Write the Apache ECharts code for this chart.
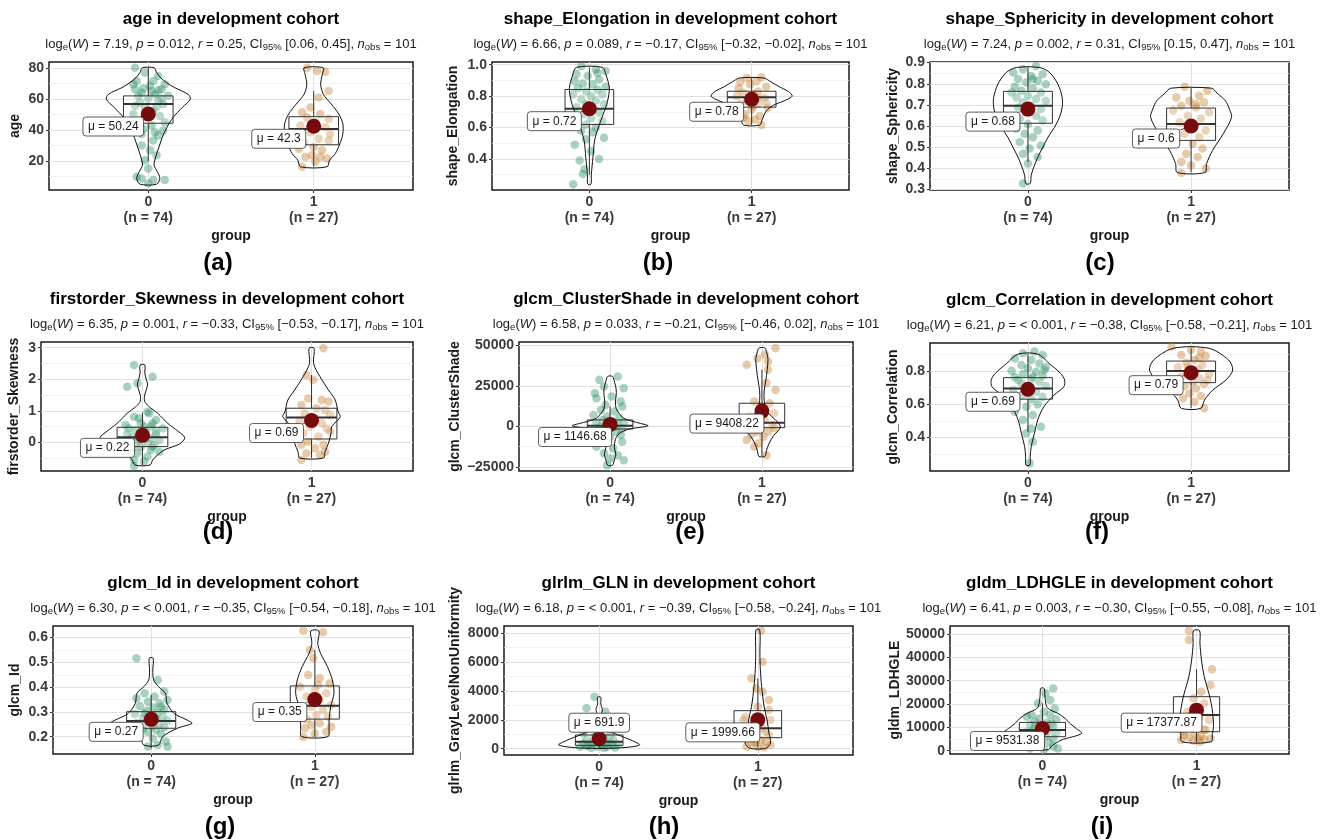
<!DOCTYPE html>
<html>
<head>
<meta charset="utf-8" />
<title>development cohort</title>
<script src="https://cdn.jsdelivr.net/npm/echarts@6/dist/echarts.min.js"></script>
<style>
  html, body { margin: 0; padding: 0; background: #fff; }
  #container { width: 1321px; height: 840px; }
</style>
</head>
<body>
<div id="container"></div>
<script>
// ---------- data ----------
var groupNames = ['0', '1'];
var groupN = [74, 27];
var nObs = 101;
var featureNames = ['age', 'shape_Elongation', 'shape_Sphericity', 'firstorder_Skewness',
  'glcm_ClusterShade', 'glcm_Correlation', 'glcm_Id', 'glrlm_GLN', 'gldm_LDHGLE'];
var yAxisNames = ['age', 'shape_Elongation', 'shape_Sphericity', 'firstorder_Skewness',
  'glcm_ClusterShade', 'glcm_Correlation', 'glcm_Id', 'glrlm_GrayLevelNonUniformity', 'gldm_LDHGLE'];
var panelTags = ['(a)', '(b)', '(c)', '(d)', '(e)', '(f)', '(g)', '(h)', '(i)'];

var logW = ['7.19', '6.66', '7.24', '6.35', '6.58', '6.21', '6.30', '6.18', '6.41'];
var pValues = ['0.012', '0.089', '0.002', '0.001', '0.033', '< 0.001', '< 0.001', '< 0.001', '0.003'];
var rValues = ['0.25', '−0.17', '0.31', '−0.33', '−0.21', '−0.38', '−0.35', '−0.39', '−0.30'];
var ciValues = ['[0.06, 0.45]', '[−0.32, −0.02]', '[0.15, 0.47]', '[−0.53, −0.17]', '[−0.46, 0.02]',
  '[−0.58, −0.21]', '[−0.54, −0.18]', '[−0.58, −0.24]', '[−0.55, −0.08]'];

var yRanges = [[1.25, 83.75], [0.203, 1.017], [0.297, 0.903], [-0.91, 3.18], [-27600, 52100],
  [0.197, 0.969], [0.130, 0.647], [-437, 8507], [-1400, 53430]];
var majorTicks = [
  [20, 40, 60, 80], [0.4, 0.6, 0.8, 1.0], [0.3, 0.4, 0.5, 0.6, 0.7, 0.8, 0.9], [0, 1, 2, 3],
  [-25000, 0, 25000, 50000], [0.4, 0.6, 0.8], [0.2, 0.3, 0.4, 0.5, 0.6],
  [0, 2000, 4000, 6000, 8000], [0, 10000, 20000, 30000, 40000, 50000]];
var minorTicks = [
  [10, 30, 50, 70], [0.3, 0.5, 0.7, 0.9], [0.35, 0.45, 0.55, 0.65, 0.75, 0.85], [-0.5, 0.5, 1.5, 2.5],
  [-12500, 12500, 37500], [0.3, 0.5, 0.7, 0.9], [0.15, 0.25, 0.35, 0.45, 0.55],
  [1000, 3000, 5000, 7000], [5000, 15000, 25000, 35000, 45000]];
var tickDecimals = [0, 1, 1, 0, 0, 1, 1, 0, 0];

var means = [[50.24, 42.3], [0.72, 0.78], [0.68, 0.6], [0.22, 0.69], [1146.68, 9408.22],
  [0.69, 0.79], [0.27, 0.35], [691.9, 1999.66], [9531.38, 17377.87]];

// [lower whisker, q1, median, q3, upper whisker]
var boxStats = [
  [[20, 44.3, 56.6, 61.9, 80], [16.2, 30.4, 40.6, 48.5, 65]],
  [[0.3, 0.62, 0.72, 0.842, 0.983], [0.616, 0.73, 0.793, 0.831, 0.915]],
  [[0.43, 0.613, 0.696, 0.764, 0.877], [0.38, 0.532, 0.61, 0.685, 0.779]],
  [[-0.72, -0.137, 0.16, 0.475, 0.94], [-0.5, 0.105, 0.79, 1.08, 2.13]],
  [[-4300, -1650, 420, 3930, 12200], [-18500, -830, 2270, 14260, 35000]],
  [[0.434, 0.63, 0.695, 0.76, 0.902], [0.575, 0.73, 0.8, 0.86, 0.935]],
  [[0.153, 0.234, 0.263, 0.301, 0.368], [0.2, 0.271, 0.325, 0.405, 0.55]],
  [[50, 231, 485, 948, 1870], [100, 763, 1410, 2636, 4880]],
  [[700, 6000, 8860, 12140, 20290], [3860, 8140, 15290, 23140, 34860]]
];

// violin outlines: [value, half width]
var violins = [
  [[[5,0.05],[8.8,0.07],[13,0.055],[17.3,0.035],[22.6,0.045],[29,0.065],[35.3,0.085],[41.7,0.113],[48,0.15],[54.5,0.206],[59.8,0.254],[63,0.24],[67.2,0.16],[70.5,0.11],[73.6,0.075],[77,0.05],[80,0.036]],
   [[16.2,0.08],[20.5,0.096],[24.7,0.13],[31,0.158],[37.5,0.176],[43.9,0.176],[50.3,0.151],[56.6,0.106],[63,0.058],[69.4,0.042],[75.8,0.052],[80,0.058]]],
  [[[0.24,0.01],[0.3,0.012],[0.41,0.022],[0.515,0.032],[0.6,0.055],[0.684,0.085],[0.768,0.112],[0.852,0.123],[0.937,0.102],[0.983,0.08]],
   [[0.616,0.05],[0.652,0.065],[0.705,0.09],[0.74,0.13],[0.77,0.2],[0.8,0.25],[0.83,0.225],[0.86,0.17],[0.89,0.12],[0.915,0.075]]],
  [[[0.328,0.014],[0.367,0.02],[0.407,0.037],[0.453,0.061],[0.5,0.092],[0.547,0.123],[0.594,0.163],[0.642,0.194],[0.689,0.21],[0.735,0.21],[0.798,0.184],[0.853,0.133],[0.877,0.07]],
   [[0.38,0.085],[0.422,0.095],[0.485,0.132],[0.563,0.197],[0.641,0.248],[0.68,0.235],[0.72,0.21],[0.755,0.16],[0.779,0.125]]],
  [[[-0.72,0.045],[-0.56,0.06],[-0.4,0.09],[-0.24,0.13],[-0.05,0.22],[0.15,0.25],[0.35,0.21],[0.6,0.15],[0.92,0.09],[1.15,0.035],[1.3,0.013],[1.5,0.013],[1.7,0.025],[1.85,0.03],[2.0,0.022],[2.2,0.014],[2.45,0.014]],
   [[-0.5,0.07],[-0.3,0.08],[-0.03,0.1],[0.29,0.115],[0.5,0.12],[0.81,0.17],[0.97,0.157],[1.34,0.14],[1.66,0.1],[2.08,0.05],[2.5,0.012],[2.98,0.015]]],
  [[[-24000,0.016],[-20000,0.03],[-17500,0.038],[-13000,0.028],[-8000,0.035],[-4500,0.06],[-1800,0.12],[300,0.25],[1800,0.2],[3000,0.15],[5000,0.09],[8000,0.06],[11000,0.04],[15000,0.035],[19000,0.04],[23000,0.04],[27000,0.03],[30800,0.016]],
   [[-18500,0.02],[-15000,0.03],[-11000,0.045],[-6000,0.075],[-1000,0.12],[2000,0.11],[6000,0.065],[10000,0.03],[16000,0.015],[22000,0.015],[28000,0.025],[35000,0.035],[42000,0.04],[46000,0.03],[48400,0.02]]],
  [[[0.233,0.012],[0.283,0.014],[0.344,0.02],[0.424,0.04],[0.505,0.06],[0.585,0.098],[0.655,0.16],[0.705,0.22],[0.746,0.225],[0.786,0.2],[0.846,0.13],[0.902,0.06]],
   [[0.575,0.06],[0.625,0.082],[0.685,0.133],[0.746,0.214],[0.806,0.255],[0.866,0.23],[0.937,0.11]]],
  [[[0.166,0.045],[0.2,0.07],[0.234,0.16],[0.254,0.25],[0.267,0.22],[0.294,0.14],[0.335,0.097],[0.375,0.087],[0.402,0.045],[0.429,0.015],[0.469,0.01],[0.517,0.012]],
   [[0.2,0.08],[0.234,0.087],[0.267,0.087],[0.321,0.097],[0.375,0.117],[0.429,0.107],[0.483,0.077],[0.537,0.035],[0.577,0.018],[0.627,0.025]]],
  [[[50,0.12],[257,0.255],[600,0.2],[950,0.12],[1300,0.05],[1600,0.035],[2000,0.012],[2300,0.01],[2700,0.02],[3100,0.01],[3570,0.01]],
   [[30,0.05],[400,0.08],[1100,0.07],[2000,0.058],[2900,0.04],[4300,0.024],[5500,0.016],[6600,0.013],[8240,0.012]]],
  [[[500,0.04],[2000,0.06],[4500,0.12],[7400,0.255],[9500,0.22],[11700,0.178],[13900,0.146],[16000,0.1],[17500,0.05],[18900,0.027],[23100,0.016],[26700,0.011]],
   [[3860,0.094],[7430,0.103],[10290,0.11],[16000,0.105],[20290,0.095],[24570,0.08],[31700,0.05],[38860,0.032],[46000,0.022],[51430,0.02]]]
];

// observations: [jitter offset from group centre, value]
var points = [
  [[[-0.08,80],[-0.02,76.8],[0.06,74.7],[-0.07,71.5],[0.01,68.3],[0.08,66.2],[-0.08,66.2],[-0.04,64],[0.04,63],[0.12,62],[0,60],[0.06,58.7],[-0.05,57.7],[0.09,56.6],[-0.02,54.5],[0.03,52.3],[-0.09,50.2],[0.07,49],[-0.06,46],[0.1,44.9],[0.02,42.8],[-0.03,40.6],[0.09,39.6],[0.06,36.4],[0.03,33.2],[-0.04,30],[0.01,26.8],[0.05,23.6],[-0.02,20.4],[0,15.1],[-0.04,8.7],[0.03,7.7],[0.1,7.7],[0,5.5],[-0.07,9.8],[-0.09,69.4],[0.03,71.5],[0.1,69.4],[-0.03,66.8],[0.06,65.5],[-0.06,62],[0.02,65],[0.08,60],[-0.08,55.5],[0.05,54.9],[-0.01,49],[-0.04,37.4],[0.04,38.5]],
   [[-0.04,80],[0.02,77.9],[0.07,77.4],[0.09,65.1],[0.03,60.9],[-0.02,54.5],[-0.07,51.3],[0.04,50.2],[-0.04,48],[0.09,47],[0.01,44.9],[-0.08,42.8],[0.07,41.7],[-0.02,38.5],[0.1,37.4],[0.03,34.3],[-0.06,32.1],[0.09,33.2],[0,28.9],[-0.09,27.9],[0.05,26.8],[-0.01,23.6],[0.04,22.6],[-0.05,22.6],[0.08,21.5],[0.01,19.4],[-0.07,16.2]]],
  [[[-0.05,0.99],[0.04,0.97],[0.1,0.96],[-0.08,0.94],[-0.01,0.93],[0.06,0.905],[-0.04,0.88],[0.02,0.875],[0.1,0.86],[-0.07,0.85],[0.05,0.84],[-0.02,0.83],[-0.1,0.81],[0.08,0.81],[0.01,0.8],[-0.05,0.78],[0.04,0.77],[-0.02,0.75],[0.09,0.75],[-0.08,0.73],[0.02,0.715],[0.06,0.695],[-0.04,0.685],[0.01,0.66],[-0.08,0.65],[0.08,0.64],[-0.02,0.62],[0.04,0.6],[-0.05,0.58],[0.02,0.57],[0.09,0.535],[-0.02,0.525],[-0.09,0.49],[0.01,0.45],[0.06,0.4],[-0.06,0.39],[-0.03,0.335],[-0.04,0.305],[-0.1,0.24],[0.05,0.947],[-0.09,0.895]],
   [[0.06,0.92],[-0.07,0.89],[-0.01,0.875],[0.09,0.86],[0.04,0.83],[-0.05,0.82],[0.01,0.81],[-0.09,0.8],[0.08,0.79],[-0.03,0.77],[0.04,0.757],[-0.07,0.747],[0.1,0.726],[0,0.715],[-0.04,0.684],[0.05,0.673],[0.02,0.652],[-0.05,0.662],[0.06,0.616],[-0.01,0.79],[-0.08,0.85],[0.03,0.895],[-0.03,0.915],[0.09,0.757],[0.01,0.736],[-0.02,0.64],[0.04,0.789]]],
  [[[0.05,0.884],[-0.03,0.869],[-0.09,0.853],[0.09,0.845],[0.02,0.837],[-0.06,0.822],[0.06,0.814],[-0.01,0.806],[0.11,0.798],[-0.08,0.786],[0.03,0.779],[-0.04,0.767],[0.08,0.759],[0,0.743],[-0.07,0.735],[0.05,0.728],[0.11,0.72],[-0.03,0.712],[0.02,0.696],[-0.06,0.688],[0.08,0.68],[-0.01,0.665],[0.05,0.649],[-0.05,0.634],[0.09,0.626],[0,0.61],[-0.07,0.587],[0.06,0.579],[-0.02,0.563],[0.03,0.547],[-0.05,0.524],[0.08,0.508],[0.01,0.493],[-0.03,0.469],[0.06,0.453],[0,0.422],[-0.03,0.328],[0.03,0.822],[-0.1,0.759]],
   [[-0.04,0.786],[0.1,0.767],[0.05,0.743],[-0.09,0.735],[-0.01,0.72],[0.08,0.712],[-0.06,0.696],[0.03,0.688],[-0.11,0.673],[0.11,0.665],[-0.02,0.649],[0.06,0.634],[-0.07,0.618],[0.02,0.602],[0.09,0.579],[-0.04,0.563],[0.05,0.547],[-0.09,0.532],[0.01,0.516],[0.07,0.493],[-0.03,0.469],[0.04,0.453],[-0.06,0.43],[0,0.414],[0.09,0.399],[-0.06,0.378],[0.03,0.704]]],
  [[[-0.05,2.45],[0.06,2.08],[-0.09,1.76],[-0.03,1.87],[0.04,0.92],[-0.05,0.81],[0.08,0.71],[-0.01,0.6],[-0.1,0.55],[0.05,0.5],[0.12,0.44],[-0.04,0.39],[0.02,0.34],[-0.09,0.29],[0.08,0.26],[-0.01,0.2],[-0.06,0.16],[0.05,0.13],[0.1,0.07],[-0.03,0.02],[0.03,-0.01],[-0.11,-0.03],[0.07,-0.08],[-0.01,-0.14],[-0.06,-0.19],[0.05,-0.24],[0.1,-0.3],[-0.03,-0.35],[0.03,-0.45],[-0.05,-0.56],[0.01,-0.61],[-0.05,-0.75],[0.06,0.6],[-0.08,0.44],[0.01,0.5],[0.08,0.34],[-0.02,0.1],[0.06,-0.14],[0.03,0.97],[-0.02,0.76]],
   [[0.07,2.98],[-0.03,2.13],[0.01,1.98],[-0.02,1.39],[0.06,1.34],[0.1,1.29],[-0.06,1.18],[0.03,1.08],[0.08,1.02],[-0.04,0.92],[0.11,0.87],[0.02,0.76],[-0.07,0.66],[0.06,0.6],[-0.01,0.5],[0.09,0.44],[-0.05,0.29],[0.04,0.18],[-0.02,0.02],[0.07,-0.08],[-0.06,-0.08],[0.02,-0.19],[0.08,-0.3],[-0.03,-0.35],[0.05,-0.4],[-0.06,-0.56],[0.11,0.34]]],
  [[[0.05,30800],[-0.07,28700],[-0.04,24600],[0.09,23600],[-0.1,20500],[0.01,18400],[-0.09,17400],[0.07,15300],[-0.03,13200],[0.08,12200],[-0.06,10100],[0.03,9100],[-0.11,7000],[-0.02,6000],[0.06,5000],[-0.05,3900],[0.02,2900],[0.09,2300],[-0.09,1900],[-0.02,1200],[0.05,600],[-0.07,-200],[0.01,-600],[0.08,-1200],[-0.04,-2300],[0.04,-3300],[-0.08,-4300],[0.07,-5400],[0,-6400],[-0.05,-8500],[0.08,-9500],[-0.09,-12600],[0.02,-13600],[-0.04,-16700],[0.05,-17800],[0,-19800],[0.09,-20900],[-0.02,-24000],[0.03,-200],[-0.03,200]],
   [[0.09,48300],[0.02,44200],[-0.03,42100],[0.04,40100],[-0.1,38000],[0.04,34900],[0.03,26700],[0.09,22500],[-0.05,15300],[0.05,14300],[-0.01,12200],[0.08,8100],[-0.08,6000],[0.02,3900],[-0.04,1900],[0.07,800],[-0.01,-1200],[0.04,-3300],[-0.07,-5400],[0.01,-6400],[-0.1,-8500],[-0.02,-10500],[-0.05,-12600],[0.03,-17800],[0.08,-1200],[-0.03,-3300],[0.02,9100]]],
  [[[0.04,0.917],[-0.03,0.907],[0.09,0.896],[-0.08,0.876],[0.02,0.866],[0.07,0.846],[-0.04,0.836],[0.11,0.822],[0,0.816],[-0.1,0.802],[0.05,0.796],[-0.03,0.782],[0.09,0.77],[-0.08,0.762],[0.02,0.75],[0.07,0.736],[-0.04,0.726],[0.11,0.71],[0,0.702],[-0.09,0.685],[0.05,0.675],[-0.03,0.655],[0.09,0.645],[0.02,0.629],[-0.07,0.615],[0.06,0.6],[-0.01,0.585],[-0.08,0.555],[0.03,0.535],[-0.03,0.505],[0.08,0.464],[0.02,0.454],[-0.01,0.424],[0.03,0.374],[0.01,0.243],[-0.06,0.746],[0.03,0.766],[0.1,0.806]],
   [[-0.12,0.947],[0,0.927],[0.06,0.917],[-0.06,0.896],[0.09,0.89],[0.02,0.866],[-0.03,0.85],[0.07,0.836],[-0.08,0.822],[0.04,0.81],[-0.01,0.79],[0.11,0.782],[-0.06,0.766],[0.05,0.756],[0.01,0.736],[0.08,0.722],[-0.04,0.71],[0.03,0.695],[-0.08,0.675],[-0.01,0.665],[0.06,0.649],[-0.05,0.635],[0.02,0.615],[0.08,0.575],[0.1,0.746],[0.05,0.882],[-0.02,0.826]]],
  [[[-0.09,0.517],[0.04,0.429],[0.08,0.382],[-0.04,0.375],[0.02,0.362],[-0.09,0.355],[0.1,0.348],[-0.02,0.341],[0.05,0.335],[-0.07,0.324],[0.01,0.318],[0.08,0.31],[-0.03,0.305],[0.04,0.297],[-0.1,0.292],[0,0.286],[0.07,0.281],[-0.05,0.274],[0.03,0.27],[0.1,0.265],[-0.02,0.259],[-0.09,0.254],[0.05,0.251],[0.01,0.243],[0.08,0.238],[-0.05,0.232],[0.03,0.227],[-0.02,0.219],[0.06,0.211],[-0.08,0.203],[0.01,0.193],[0.09,0.18],[0.04,0.166],[-0.02,0.16],[0.1,0.16],[0.02,0.281],[-0.04,0.294],[0.06,0.321]],
   [[-0.07,0.628],[0.05,0.622],[-0.03,0.55],[-0.01,0.517],[-0.04,0.449],[0.03,0.436],[0.09,0.415],[-0.09,0.402],[0,0.389],[0.07,0.375],[-0.05,0.362],[0.03,0.348],[0.1,0.328],[-0.02,0.321],[0.05,0.308],[-0.08,0.301],[0.01,0.288],[0.08,0.281],[-0.05,0.27],[0.03,0.254],[-0.02,0.247],[0.1,0.24],[-0.06,0.234],[0.07,0.22],[0,0.213],[-0.07,0.2],[0.02,0.409]]],
  [[[-0.03,3600],[-0.08,2800],[0.04,2570],[-0.04,2220],[-0.12,1990],[0.06,1760],[-0.07,1530],[0.01,1300],[-0.1,1060],[0.07,950],[-0.03,830],[0.03,720],[-0.08,600],[0.09,600],[-0.01,490],[0.05,420],[-0.1,370],[-0.05,320],[0.02,250],[0.08,250],[-0.08,185],[-0.01,140],[0.05,140],[0.1,90],[-0.05,70],[0.03,45],[-0.12,140],[0.12,250],[-0.04,420],[0.01,320],[-0.07,250],[0.07,370]],
   [[0.02,8180],[0.03,6030],[-0.04,4880],[-0.01,4180],[0.03,3950],[0.07,3380],[-0.08,2220],[0.07,2680],[0.08,1990],[-0.03,1760],[-0.06,1530],[0.03,1410],[-0.01,1060],[0.07,950],[-0.08,720],[0.02,600],[0.05,490],[-0.04,370],[0.08,250],[-0.07,140],[0,140],[0.04,90],[-0.02,420],[0.05,1180],[-0.09,1990],[0,2910],[-0.04,1060]]],
  [[[0.07,26700],[0.02,24570],[0.05,21700],[-0.03,20290],[0.08,18140],[0.01,16710],[-0.07,15290],[0.05,15290],[-0.1,14570],[-0.02,13860],[0.09,13430],[-0.05,12430],[0.03,12000],[-0.08,11000],[0.07,10570],[0,10000],[-0.06,9140],[0.04,8570],[-0.1,8140],[0.09,7710],[-0.03,7140],[0.02,6290],[-0.07,5710],[0.07,5290],[-0.01,4570],[-0.09,3860],[0.04,3430],[-0.04,2860],[0.07,2000],[-0.08,1000],[0.01,570],[0.1,1000],[-0.05,10290],[0.06,11710]],
   [[-0.05,51430],[-0.05,47430],[0.1,34860],[0.09,28140],[0.03,25290],[-0.02,22430],[0.05,20290],[-0.06,16710],[0.02,14570],[0.08,13140],[-0.04,11710],[0.01,10290],[0.05,9140],[-0.09,8140],[-0.01,7430],[0.03,6290],[-0.05,5710],[0.09,5290],[-0.1,4570],[-0.02,4290],[0.02,3860],[0.05,4860],[-0.08,6710],[0,16000],[0.06,8860],[-0.03,9570],[0.01,5290]]]
];

// ---------- layout ----------
var gridRects = [[49, 62, 364, 128], [492, 62, 357, 128], [930, 62, 359, 128],
  [41, 342, 372, 129], [519, 342, 334, 129], [930, 343, 359, 128],
  [53, 626, 360, 128], [504, 626, 349, 129], [950, 626, 339, 128]];
var yNameGaps = [27, 32, 30, 20, 57, 30, 31, 42, 48];
var tagPos = [[218, 263], [658, 263], [1100, 263], [218, 532], [690, 532], [1097, 532],
  [220, 827], [664, 827], [1102, 827]];
var labelShift = function (p, g) {
  if (p === 7 && g === 0) return [0, -16];
  return [-35, 12.5];
};
var FONT = '"Liberation Sans", Arial, Helvetica, sans-serif';
var pointColors = ['rgba(38,140,95,0.5)', 'rgba(196,122,42,0.5)'];
var LABEL_FONT = 12;

var measureCtx = document.createElement('canvas').getContext('2d');
measureCtx.font = LABEL_FONT + 'px ' + FONT;

function fmtTick(dec) {
  return function (v) { return v.toFixed(dec).replace('-', '−'); };
}

function subtitle(p) {
  return '{t|log}{s|e}{t|(}{i|W}{t|) = ' + logW[p] + ', }{i|p}{t| = ' + pValues[p] + ', }{i|r}{t| = ' +
    rValues[p] + ', CI}{s|95%}{t| ' + ciValues[p] + ', }{i|n}{s|obs}{t| = ' + nObs + '}';
}

function shapeRenderer(p) {
  return function (params, api) {
    var g = params.dataIndex;
    var cx = g + 1;
    var prof = violins[p][g];
    var pts = [], i;
    for (i = 0; i < prof.length; i++) pts.push(api.coord([cx + prof[i][1], prof[i][0]]));
    for (i = prof.length - 1; i >= 0; i--) pts.push(api.coord([cx - prof[i][1], prof[i][0]]));
    var b = boxStats[p][g];
    var tl = api.coord([cx - 0.15, b[3]]);
    var br = api.coord([cx + 0.15, b[1]]);
    var mL = api.coord([cx - 0.15, b[2]]);
    var mR = api.coord([cx + 0.15, b[2]]);
    var w0 = api.coord([cx, b[0]]), w1 = api.coord([cx, b[1]]);
    var w3 = api.coord([cx, b[3]]), w4 = api.coord([cx, b[4]]);
    return {
      type: 'group',
      children: [
        { type: 'line', shape: { x1: w0[0], y1: w0[1], x2: w1[0], y2: w1[1] }, style: { stroke: '#333', lineWidth: 1 } },
        { type: 'line', shape: { x1: w3[0], y1: w3[1], x2: w4[0], y2: w4[1] }, style: { stroke: '#333', lineWidth: 1 } },
        { type: 'rect', shape: { x: tl[0], y: tl[1], width: br[0] - tl[0], height: br[1] - tl[1] },
          style: { fill: 'rgba(255,255,255,0.2)', stroke: '#333', lineWidth: 1 } },
        { type: 'line', shape: { x1: mL[0], y1: mL[1], x2: mR[0], y2: mR[1] }, style: { stroke: '#333', lineWidth: 2 } },
        { type: 'polygon', shape: { points: pts, smooth: 0.3 }, style: { fill: 'none', stroke: '#111', lineWidth: 1 } }
      ]
    };
  };
}

function meanRenderer(p) {
  return function (params, api) {
    var g = params.dataIndex;
    var c = api.coord([g + 1, means[p][g]]);
    var off = labelShift(p, g);
    var lx = c[0] + off[0], ly = c[1] + off[1];
    var txt = 'μ = ' + String(means[p][g]);
    var hw = measureCtx.measureText(txt).width / 2 + 5;
    var hh = 9.5;
    // connector runs from the dot to the label edge only
    var dx = Math.abs(off[0]) || 1e-6, dy = Math.abs(off[1]) || 1e-6;
    var s = 1 - Math.min(hw / dx, hh / dy);
    var children = [];
    if (s > 0) {
      children.push({ type: 'line', shape: { x1: c[0], y1: c[1], x2: c[0] + off[0] * s, y2: c[1] + off[1] * s },
        style: { stroke: '#222', lineWidth: 0.8 } });
    }
    children.push({ type: 'circle', shape: { cx: c[0], cy: c[1], r: 7.5 }, style: { fill: '#760a0c' } });
    children.push({ type: 'rect', z2: 5, shape: { x: lx - hw, y: ly - hh, width: hw * 2, height: hh * 2, r: 3 },
      style: { fill: '#fff', stroke: '#333', lineWidth: 0.8 } });
    children.push({ type: 'text', z2: 6, x: lx, y: ly,
      style: { text: txt, fontSize: LABEL_FONT, fontFamily: FONT, fill: '#1a1a1a',
        align: 'center', verticalAlign: 'middle' } });
    return { type: 'group', children: children };
  };
}

var chart = echarts.init(document.getElementById('container'));
var grids = [], xAxes = [], yAxes = [], series = [], texts = [];

for (var p = 0; p < 9; p++) {
  var r = gridRects[p];
  grids.push({ left: r[0], top: r[1], width: r[2], height: r[3], show: true, backgroundColor: '#fff',
    borderColor: '#1a1a1a', borderWidth: 1.5, containLabel: false, outerBoundsMode: 'none' });

  xAxes.push({
    gridIndex: p, type: 'value', min: 0.4, max: 2.6,
    name: 'group', nameLocation: 'middle', nameGap: 39,
    nameTextStyle: { fontFamily: FONT, fontWeight: 'bold', fontSize: 14, color: '#1a1a1a' },
    axisLine: { show: false },
    axisTick: { show: true, customValues: [1, 2], length: 3, lineStyle: { color: '#333' } },
    axisLabel: { customValues: [1, 2], fontFamily: FONT, fontSize: 14, fontWeight: 'bold', color: '#3a3a3a',
      lineHeight: 16, margin: 4,
      formatter: function (v) { var k = Math.round(v) - 1; return groupNames[k] + '\n(n = ' + groupN[k] + ')'; } },
    splitLine: { show: false }
  });

  yAxes.push({
    gridIndex: p, type: 'value', min: yRanges[p][0], max: yRanges[p][1],
    name: yAxisNames[p], nameLocation: 'middle', nameGap: yNameGaps[p],
    nameTextStyle: { fontFamily: FONT, fontWeight: 'bold', fontSize: 14, color: '#1a1a1a' },
    axisLine: { show: false },
    axisTick: { show: true, customValues: majorTicks[p], length: 3, lineStyle: { color: '#333' } },
    axisLabel: { customValues: majorTicks[p], fontFamily: FONT, fontSize: 14, fontWeight: 'bold', color: '#3a3a3a',
      margin: 5, formatter: fmtTick(tickDecimals[p]) },
    splitLine: { show: false }
  });

  var lines = [];
  minorTicks[p].forEach(function (v) { lines.push({ yAxis: v, lineStyle: { color: '#eeeeee', width: 0.7 } }); });
  majorTicks[p].forEach(function (v) { lines.push({ yAxis: v, lineStyle: { color: '#e0e0e0', width: 1 } }); });
  lines.push({ xAxis: 1, lineStyle: { color: '#e0e0e0', width: 1 } });
  lines.push({ xAxis: 2, lineStyle: { color: '#e0e0e0', width: 1 } });

  // grid lines sit under every mark
  series.push({
    type: 'scatter', xAxisIndex: p, yAxisIndex: p, data: [], z: 1, silent: true,
    markLine: { z: 1, silent: true, symbol: ['none', 'none'], label: { show: false }, animation: false,
      lineStyle: { type: 'solid' }, data: lines }
  });

  for (var g = 0; g < 2; g++) {
    series.push({
      type: 'scatter', xAxisIndex: p, yAxisIndex: p, z: 2, silent: true,
      symbolSize: 8.5, itemStyle: { color: pointColors[g] },
      data: points[p][g].map(function (d) { return [g + 1 + d[0], d[1]]; })
    });
  }

  series.push({
    type: 'custom', xAxisIndex: p, yAxisIndex: p, z: 3, silent: true,
    data: [[1, boxStats[p][0][2]], [2, boxStats[p][1][2]]],
    renderItem: shapeRenderer(p)
  });
  series.push({
    type: 'custom', xAxisIndex: p, yAxisIndex: p, z: 6, silent: true,
    data: [[1, means[p][0]], [2, means[p][1]]],
    renderItem: meanRenderer(p)
  });

  var cx = r[0] + r[2] / 2;
  texts.push({ type: 'text', x: cx, y: r[1] - 43,
    style: { text: featureNames[p] + ' in development cohort', fontFamily: FONT, fontSize: 17, fontWeight: 'bold',
      fill: '#000', align: 'center', verticalAlign: 'middle' } });
  texts.push({ type: 'text', x: cx, y: r[1] - 18,
    style: { text: subtitle(p), align: 'center', verticalAlign: 'middle', fontFamily: FONT, fontSize: 13,
      rich: {
        t: { fontFamily: FONT, fontSize: 13, fill: '#1a1a1a', lineHeight: 17 },
        i: { fontFamily: FONT, fontSize: 13, fontStyle: 'italic', fill: '#1a1a1a', lineHeight: 17 },
        s: { fontFamily: FONT, fontSize: 9.5, fill: '#1a1a1a', lineHeight: 10, verticalAlign: 'bottom' }
      } } });
  texts.push({ type: 'text', x: tagPos[p][0], y: tagPos[p][1],
    style: { text: panelTags[p], fontFamily: FONT, fontSize: 24, fontWeight: 'bold', fill: '#000',
      align: 'center', verticalAlign: 'middle' } });
}

chart.setOption({
  animation: false,
  backgroundColor: '#fff',
  textStyle: { fontFamily: FONT },
  grid: grids,
  xAxis: xAxes,
  yAxis: yAxes,
  series: series,
  graphic: { elements: texts }
});
</script>
</body>
</html>
